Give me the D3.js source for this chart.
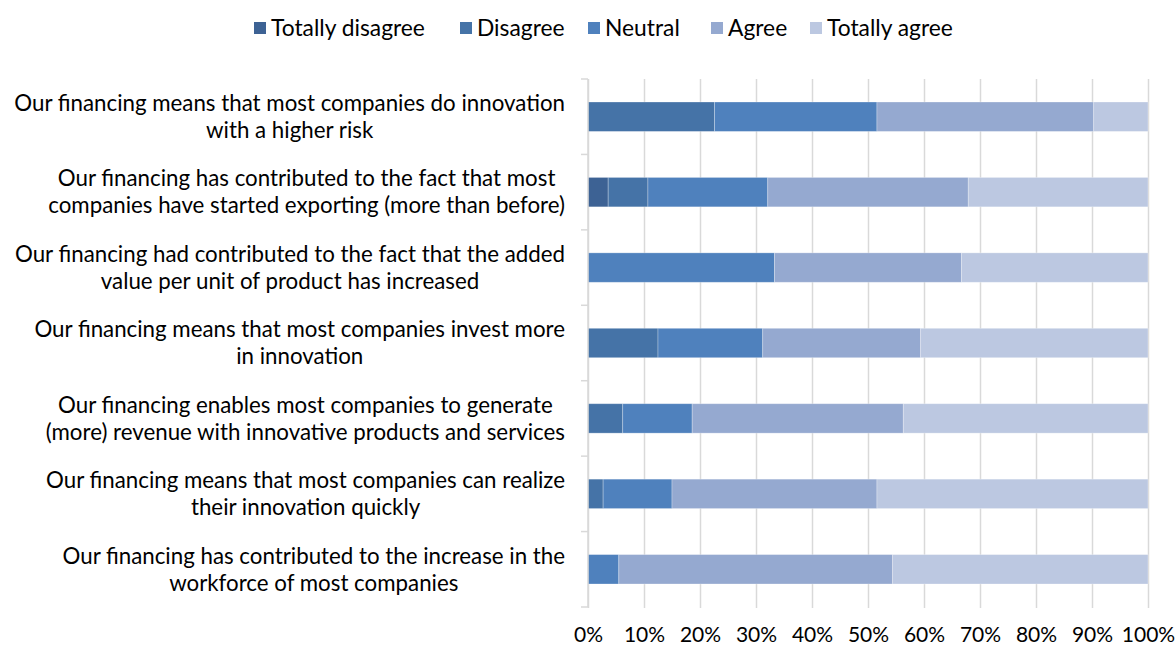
<!DOCTYPE html>
<html>
<meta charset="utf-8">
<style>
body {
  margin: 0;
  background: #fff;
  font-family: Lato, "Open Sans", sans-serif;
}
.grid line {
  stroke: #d9d9d9;
  stroke-width: 1.5px;
}
.grid path {
  display: none;
}
.y-axis path, .y-axis line {
  stroke: #d9d9d9;
  stroke-width: 1.5px;
}
.x-axis path, .x-axis line {
  display: none;
}
.x-axis text {
  font-family: Lato, sans-serif;
  font-size: 21px;
  fill: #000;
}
.label {
  font-size: 22.3px;
  fill: #000;
}
.legend text {
  font-size: 22.8px;
  fill: #000;
}
</style>
<body>
<script src="https://d3js.org/d3.v7.min.js"></script>
<script>

// categories, top to bottom (each split into the wrapped lines shown)
var categories = [
  ["Our financing means that most companies do innovation", "with a higher risk"],
  ["Our financing has contributed to the fact that most", "companies have started exporting (more than before)"],
  ["Our financing had contributed to the fact that the added", "value per unit of product has increased"],
  ["Our financing means that most companies invest more", "in innovation"],
  ["Our financing enables most companies to generate", "(more) revenue with innovative products and services"],
  ["Our financing means that most companies can realize", "their innovation quickly"],
  ["Our financing has contributed to the increase in the", "workforce of most companies"]
];

var seriesNames = ["Totally disagree", "Disagree", "Neutral", "Agree", "Totally agree"];
var seriesColors = ["#3d6294", "#4573a7", "#4f81bd", "#95a9d0", "#bcc8e1"];

// shares in %, one value per category for each series
var totallyDisagree = [0, 3.6, 0, 0, 0, 0, 0];
var disagree        = [22.6, 7.1, 0, 12.5, 6.2, 2.7, 0];
var neutral         = [29.0, 21.4, 33.3, 18.7, 12.4, 12.3, 5.5];
var agree           = [38.7, 35.8, 33.4, 28.2, 37.7, 36.6, 48.9];
var totallyAgree    = [9.7, 32.1, 33.3, 40.6, 43.7, 48.4, 45.6];

var xTicks = [0, 10, 20, 30, 40, 50, 60, 70, 80, 90, 100];

var W = 1176, H = 648;
var margin = {top: 79, right: 28, bottom: 41, left: 588};
var width = W - margin.left - margin.right,
    height = H - margin.top - margin.bottom;

function draw() {
  var series = [totallyDisagree, disagree, neutral, agree, totallyAgree];
  var rows = categories.map(function(c, i) {
    var r = {key: i};
    seriesNames.forEach(function(s, j) { r[s] = series[j][i]; });
    return r;
  });

  var svg = d3.select("body").append("svg")
      .attr("width", W)
      .attr("height", H);

  var g = svg.append("g")
      .attr("transform", "translate(" + margin.left + "," + margin.top + ")");

  var x = d3.scaleLinear().domain([0, 100]).range([0, width]);
  var y = d3.scaleBand().domain(d3.range(categories.length)).range([0, height])
      .paddingInner(0.61).paddingOuter(0.305);

  // vertical gridlines
  g.append("g")
      .attr("class", "grid")
      .call(d3.axisBottom(x).tickValues(xTicks).tickSize(height + 1).tickFormat(""));

  // stacked bars
  var layers = d3.stack().keys(seriesNames)(rows);

  g.selectAll(".layer")
      .data(layers)
    .enter().append("g")
      .attr("class", "layer")
      .attr("fill", function(d, i) { return seriesColors[i]; })
    .selectAll("rect")
      .data(function(d) { return d; })
    .enter().append("rect")
      .attr("x", function(d) { return x(d[0]); })
      .attr("y", function(d, i) { return y(i); })
      .attr("width", function(d) { return Math.max(0, x(d[1]) - x(d[0])); })
      .attr("height", y.bandwidth())
      .attr("stroke", "#ffffff")
      .attr("stroke-opacity", 0.35)
      .attr("stroke-width", 0.8);

  // left axis with ticks between categories
  var step = y.step();
  var bounds = d3.range(categories.length + 1).map(function(i) { return i * step; });
  var yAxisG = g.append("g").attr("class", "y-axis");
  yAxisG.append("line")
      .attr("x1", 0).attr("x2", 0)
      .attr("y1", 0).attr("y2", height);
  yAxisG.selectAll(".tk")
      .data(bounds)
    .enter().append("line")
      .attr("class", "tk")
      .attr("x1", -7).attr("x2", 0)
      .attr("y1", function(d) { return d; })
      .attr("y2", function(d) { return d; });

  // x axis labels
  g.append("g")
      .attr("class", "x-axis")
      .attr("transform", "translate(0," + height + ")")
      .call(d3.axisBottom(x).tickValues(xTicks).tickSize(0).tickPadding(20)
        .tickFormat(function(d) { return d + "%"; }))
      .selectAll("text")
      .attr("dy", "0.71em");

  // category labels: block right edge at 565, lines centred inside block
  var labelRight = 565 - margin.left;
  var lineH = 27;
  categories.forEach(function(lines, i) {
    var cy = y(i) + y.bandwidth() / 2;
    var grp = g.append("g").attr("class", "label");
    var texts = lines.map(function(t, k) {
      return grp.append("text").text(t)
          .attr("y", cy + (k - (lines.length - 1) / 2) * lineH)
          .attr("dy", "0.35em");
    });
    var maxW = d3.max(texts, function(t) { return t.node().getComputedTextLength(); });
    var cx = labelRight - maxW / 2;
    texts.forEach(function(t) {
      t.attr("x", cx).attr("text-anchor", "middle");
    });
  });

  // legend
  var legendX = [254, 460, 588, 711, 810];
  var legend = svg.append("g").attr("class", "legend");
  seriesNames.forEach(function(s, i) {
    var item = legend.append("g").attr("transform", "translate(" + legendX[i] + ",28)");
    item.append("rect")
        .attr("x", 0).attr("y", -6)
        .attr("width", 12).attr("height", 12)
        .attr("fill", seriesColors[i]);
    item.append("text")
        .attr("x", 17).attr("y", 0).attr("dy", "0.35em")
        .text(s);
  });
}

document.fonts.load("21px Lato").then(draw, draw);

</script>
</body>
</html>
